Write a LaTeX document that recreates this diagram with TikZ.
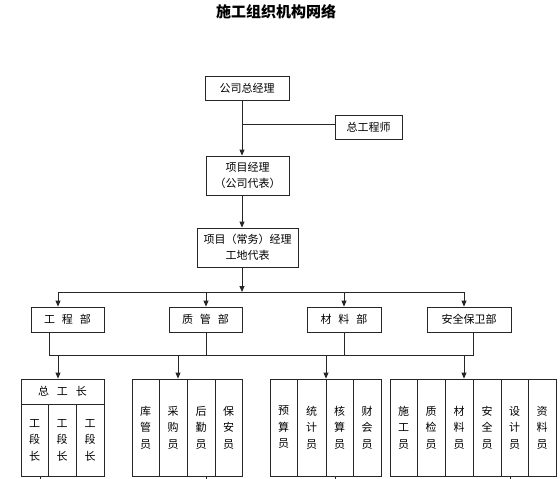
\documentclass[tikz,border=0pt]{standalone}
\usepackage{fontspec}
\setmainfont{Noto Sans CJK SC}
\usetikzlibrary{arrows.meta}
\begin{document}
\begin{tikzpicture}[x=1pt,y=-1pt,line width=0.8pt,
  box/.style={draw=black!85,inner sep=0pt,align=center,font=\fontsize{11}{16}\selectfont},
  cell/.style={box,font=\fontsize{11}{16.5}\selectfont},
  ln/.style={draw=black!85,line width=0.8pt},
  arr/.style={ln,-{Triangle[length=6pt,width=5pt]}}]
\useasboundingbox (0,0) rectangle (560,479);
% title
\node[font=\fontsize{15}{18}\selectfont\bfseries] (title) at (276,12) {施工组织机构网络};
% top chain
\node[box,minimum width=84pt,minimum height=24pt] (A) at (247,88) {公司总经理};
\node[box,minimum width=67pt,minimum height=24pt] (B) at (368.5,127) {总工程师};
\node[box,minimum width=83pt,minimum height=39pt] (C) at (247.5,175.5) {项目经理\\（公司代表）};
\node[box,minimum width=101pt,minimum height=39pt] (D) at (247.5,247.5) {项目（常务）经理\\工地代表};
\coordinate (m) at (242,0);
\coordinate (bj) at (0,124);
\coordinate (bus1) at (0,292);
\coordinate (bus2) at (0,355);
\draw[arr] (A.south -| m) -- (C.north -| m);
\draw[ln] (m |- bj) -- (B.west |- bj);
\draw[arr] (C.south -| m) -- (D.north -| m);
\draw[arr] (D.south -| m) -- (m |- bus1);
% departments
\node[box,minimum width=73pt,minimum height=25pt] (E) at (67.5,319.5) {工\hspace{7pt}程\hspace{7pt}部};
\node[box,minimum width=73pt,minimum height=25pt] (F) at (205.5,319.5) {质\hspace{7pt}管\hspace{7pt}部};
\node[box,minimum width=74pt,minimum height=25pt] (G) at (344,319.5) {材\hspace{7pt}料\hspace{7pt}部};
\node[box,minimum width=84pt,minimum height=25pt] (H) at (469,319.5) {安全保卫部};
\coordinate (xa) at (58,0);
\coordinate (xb) at (206,0);
\coordinate (xc) at (344,0);
\coordinate (xd) at (464,0);
\draw[ln] (xa |- bus1) -- (xd |- bus1);
\draw[arr] (xa |- bus1) -- (E.north -| xa);
\draw[arr] (xb |- bus1) -- (F.north -| xb);
\draw[arr] (xc |- bus1) -- (G.north -| xc);
\draw[arr] (xd |- bus1) -- (H.north -| xd);
\coordinate (ya) at (49,0);
\coordinate (yd) at (473,0);
\draw[ln] (E.south -| ya) -- (ya |- bus2) -- (yd |- bus2) -- (H.south -| yd);
\draw[ln] (F.south -| xb) -- (xb |- bus2);
\draw[ln] (G.south -| xc) -- (xc |- bus2);
% group 1
\node[box,minimum width=83pt,minimum height=25pt] (g1h) at (62.5,391.5) {总\hspace{8pt}工\hspace{8pt}长};
\node[cell,minimum width=27pt,minimum height=72pt] (g1a) at (34.5,440) {工\\段\\长};
\node[cell,minimum width=28pt,minimum height=72pt] (g1b) at (62,440) {工\\段\\长};
\node[cell,minimum width=28pt,minimum height=72pt] (g1c) at (90,440) {工\\段\\长};
% group 2
\node[cell,minimum width=27pt,minimum height=97pt] (g2a) at (145.5,427.5) {库\\管\\员};
\node[cell,minimum width=28pt,minimum height=97pt] (g2b) at (173,427.5) {采\\购\\员};
\node[cell,minimum width=28pt,minimum height=97pt] (g2c) at (201,427.5) {后\\勤\\员};
\node[cell,minimum width=27pt,minimum height=97pt] (g2d) at (228.5,427.5) {保\\安\\员};
% group 3
\node[cell,minimum width=27pt,minimum height=97pt] (g3a) at (283.5,427.5) {预\\算\\员};
\node[cell,minimum width=29pt,minimum height=97pt] (g3b) at (311.5,427.5) {统\\计\\员};
\node[cell,minimum width=27pt,minimum height=97pt] (g3c) at (339.5,427.5) {核\\算\\员};
\node[cell,minimum width=28pt,minimum height=97pt] (g3d) at (367,427.5) {财\\会\\员};
% group 4
\node[cell,minimum width=27pt,minimum height=97pt] (g4a) at (403.5,427.5) {施\\工\\员};
\node[cell,minimum width=28pt,minimum height=97pt] (g4b) at (431,427.5) {质\\检\\员};
\node[cell,minimum width=28pt,minimum height=97pt] (g4c) at (459,427.5) {材\\料\\员};
\node[cell,minimum width=28pt,minimum height=97pt] (g4d) at (487,427.5) {安\\全\\员};
\node[cell,minimum width=27pt,minimum height=97pt] (g4e) at (514.5,427.5) {设\\计\\员};
\node[cell,minimum width=28pt,minimum height=97pt] (g4f) at (542,427.5) {资\\料\\员};
% arrows from bus2 to groups
\coordinate (za) at (58,0);
\coordinate (zb) at (178,0);
\coordinate (zc) at (326,0);
\coordinate (zd) at (464,0);
\draw[arr] (za |- bus2) -- (g1h.north -| za);
\draw[arr] (zb |- bus2) -- (g2b.north -| zb);
\draw[arr] (zc |- bus2) -- (g3c.north -| zc);
\draw[arr] (zd |- bus2) -- (g4c.north -| zd);
% stubs below groups
\coordinate (bot) at (0,479);
\coordinate (s1) at (40,0);
\coordinate (s2) at (206,0);
\coordinate (s3) at (335,0);
\coordinate (s4) at (510,0);
\draw[ln] (g1b.south -| s1) -- (s1 |- bot);
\draw[ln] (g2c.south -| s2) -- (s2 |- bot);
\draw[ln] (g3c.south -| s3) -- (s3 |- bot);
\draw[ln] (g4e.south -| s4) -- (s4 |- bot);
\end{tikzpicture}
\end{document}
